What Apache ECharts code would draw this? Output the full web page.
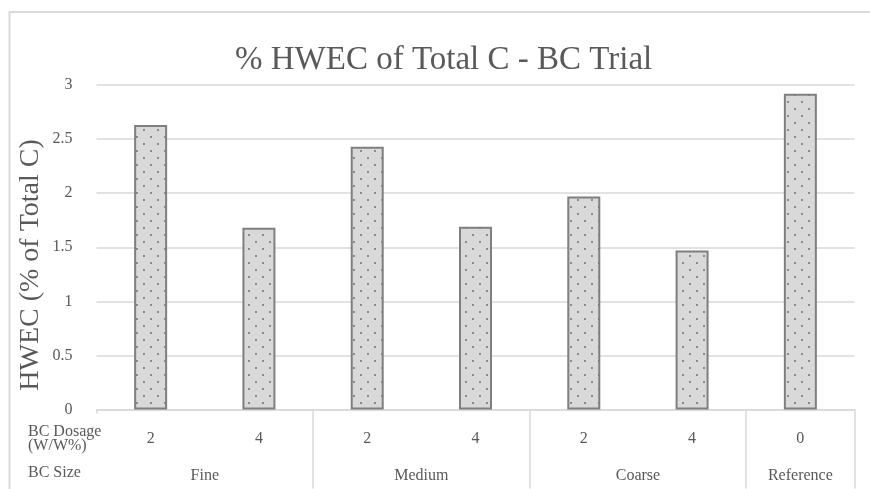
<!DOCTYPE html>
<html>
<head>
<meta charset="utf-8">
<script src="https://cdn.jsdelivr.net/npm/echarts@6/dist/echarts.min.js"></script>
<style>html,body{margin:0;padding:0;background:#fff}#c{width:870px;height:489px}</style>
</head>
<body>
<div id="c"></div>
<script>
// ---- data ----
var dosageLabels = ['2', '4', '2', '4', '2', '4', '0'];
var hwecValues = [2.63, 1.68, 2.43, 1.69, 1.97, 1.47, 2.92];
var sizeGroups = ['Fine', 'Medium', 'Coarse', 'Reference'];
var groupSpans = [2, 2, 2, 1];
var yTicks = [0, 0.5, 1, 1.5, 2, 2.5, 3];

var FONT = "'Liberation Serif','Times New Roman',serif";
var TXT = '#595959';
var GRID = '#d9d9d9';

// dotted pattern fill
var pc = document.createElement('canvas');
pc.width = 14; pc.height = 14;
var g = pc.getContext('2d');
g.fillStyle = '#d9d9d9'; g.fillRect(0, 0, 14, 14);
g.fillStyle = '#8a8a8a';
g.fillRect(3, 3, 2, 2);
g.fillRect(10, 10, 2, 2);

// group boundaries and centers from spans
var bounds = [0], centers = [], acc = 0;
groupSpans.forEach(function (s) { centers.push(acc + s / 2); acc += s; bounds.push(acc); });
var nCat = dosageLabels.length;

var chart = echarts.init(document.getElementById('c'), null, {renderer: 'canvas'});
chart.setOption({
  animation: false,
  backgroundColor: '#fff',
  title: {
    text: '% HWEC of Total C - BC Trial',
    left: 235, top: 44, padding: 0,
    textStyle: {fontFamily: FONT, fontSize: 33, fontWeight: 'normal', color: TXT}
  },
  grid: {left: 96.5, right: 15.5, top: 85, bottom: 79.5, containLabel: false},
  xAxis: [
    {
      type: 'category', data: dosageLabels, position: 'bottom',
      axisLine: {show: true, lineStyle: {color: GRID, width: 1.5}},
      axisTick: {show: false},
      axisLabel: {fontFamily: FONT, fontSize: 16, color: TXT, margin: 21}
    },
    {
      type: 'value', min: 0, max: nCat, position: 'bottom',
      axisLine: {show: false}, splitLine: {show: false},
      axisTick: {show: true, customValues: bounds.slice(1), length: 79, lineStyle: {color: GRID, width: 1.5}},
      axisLabel: {
        customValues: centers, fontFamily: FONT, fontSize: 16, color: TXT, margin: 58,
        formatter: function (v) { var i = centers.indexOf(v); return i >= 0 ? sizeGroups[i] : ''; }
      }
    },
    {
      type: 'value', min: 0, max: nCat, position: 'bottom',
      axisLine: {show: false}, splitLine: {show: false},
      axisTick: {show: true, customValues: [0], length: 4, lineStyle: {color: GRID, width: 1.5}},
      axisLabel: {show: false}
    }
  ],
  yAxis: {
    type: 'value', min: yTicks[0], max: yTicks[yTicks.length - 1], interval: yTicks[1] - yTicks[0],
    axisLine: {show: false}, axisTick: {show: false},
    axisLabel: {fontFamily: FONT, fontSize: 16, color: TXT, margin: 24},
    splitLine: {lineStyle: {color: GRID, width: 1.5}}
  },
  series: [{
    type: 'bar', xAxisIndex: 0, data: hwecValues, barWidth: 33,
    itemStyle: {color: {image: pc, repeat: 'repeat'}, borderColor: '#7f7f7f', borderWidth: 2}
  }],
  graphic: [
    {type: 'rect', shape: {x: 9.5, y: 12, width: 1000, height: 1000}, style: {fill: 'none', stroke: GRID, lineWidth: 2}, silent: true},
    {type: 'text', x: 31, y: 265, rotation: Math.PI / 2,
     style: {text: 'HWEC (% of Total C)', fontFamily: FONT, fontSize: 28, fill: TXT, align: 'center', verticalAlign: 'middle'}},
    {type: 'text', x: 28, y: 432, style: {text: 'BC Dosage', fontFamily: FONT, fontSize: 16, fill: TXT, align: 'left', verticalAlign: 'middle'}},
    {type: 'text', x: 28, y: 446, style: {text: '(W/W%)', fontFamily: FONT, fontSize: 16, fill: TXT, align: 'left', verticalAlign: 'middle'}},
    {type: 'text', x: 28, y: 473, style: {text: 'BC Size', fontFamily: FONT, fontSize: 16, fill: TXT, align: 'left', verticalAlign: 'middle'}}
  ]
});
</script>
</body>
</html>
